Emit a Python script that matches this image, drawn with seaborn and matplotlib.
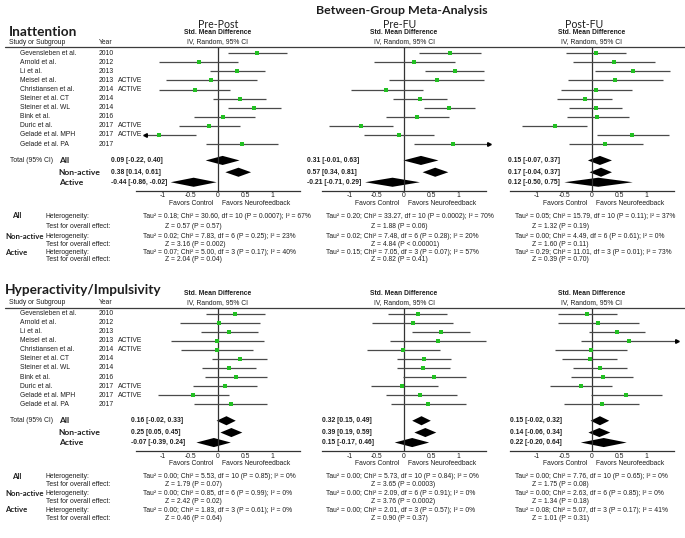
import numpy as np
import pandas as pd
import matplotlib.pyplot as plt
import seaborn as sns
from matplotlib.lines import Line2D

# ---- data ----
studies = ["Gevensleben et al.", "Arnold et al.", "Li et al.", "Meisel et al.",
           "Christiansen et al.", "Steiner et al. CT", "Steiner et al. WL",
           "Bink et al.", "Duric et al.", "Geladé et al. MPH", "Geladé et al. PA"]
years = ["2010", "2012", "2013", "2013", "2014", "2014", "2014", "2016", "2017", "2017", "2017"]
control = ["", "", "", "ACTIVE", "ACTIVE", "", "", "", "ACTIVE", "ACTIVE", ""]
periods = ["Pre-Post", "Pre-FU", "Post-FU"]
groups = ["All", "Non-active", "Active"]

# inattention
ina_pp_est = [0.71, -0.34, 0.36, -0.12, -0.42, 0.40, 0.67, 0.10, -0.16, -1.07, 0.44]
ina_pp_lo = [0.18, -1.07, -0.14, -0.95, -1.07, -0.09, 0.18, -0.43, -0.71, -1.74, -0.21]
ina_pp_hi = [1.26, 0.38, 0.87, 0.71, 0.23, 0.88, 1.16, 0.68, 0.40, -0.40, 1.10]
ina_pf_est = [0.84, 0.19, 0.93, 0.60, -0.32, 0.29, 0.82, 0.24, -0.79, -0.10, 0.89]
ina_pf_lo = [0.27, -0.55, 0.39, -0.27, -0.97, -0.21, 0.37, -0.33, -1.38, -0.74, 0.19]
ina_pf_hi = [1.41, 0.94, 1.47, 1.47, 0.34, 0.79, 1.30, 0.82, -0.20, 0.55, 1.59]
ina_pu_est = [0.07, 0.41, 0.75, 0.43, 0.08, -0.13, 0.07, 0.10, -0.68, 0.74, 0.24]
ina_pu_lo = [-0.47, -0.34, 0.06, -0.43, -0.57, -0.63, -0.41, -0.46, -1.27, 0.09, -0.41]
ina_pu_hi = [0.62, 1.16, 1.43, 1.30, 0.74, 0.37, 0.56, 0.68, -0.09, 1.41, 0.93]
ina_pp_tot = [[0.09, -0.22, 0.40], [0.38, 0.14, 0.61], [-0.44, -0.86, -0.02]]
ina_pf_tot = [[0.31, -0.01, 0.63], [0.57, 0.34, 0.81], [-0.21, -0.71, 0.29]]
ina_pu_tot = [[0.15, -0.07, 0.37], [0.17, -0.04, 0.37], [0.12, -0.50, 0.75]]

# hyperactivity / impulsivity
hyp_pp_est = [0.32, 0.03, 0.21, -0.01, -0.02, 0.40, 0.20, 0.33, 0.13, -0.46, 0.24]
hyp_pp_lo = [-0.21, -0.69, -0.31, -0.86, -0.68, -0.10, -0.29, -0.24, -0.45, -1.09, -0.43]
hyp_pp_hi = [0.87, 0.77, 0.73, 0.85, 0.64, 0.90, 0.70, 0.90, 0.71, 0.20, 0.91]
hyp_pf_est = [0.25, 0.17, 0.68, 0.63, -0.02, 0.37, 0.35, 0.55, -0.03, 0.30, 0.44]
hyp_pf_lo = [-0.29, -0.58, 0.15, -0.26, -0.68, -0.13, -0.13, -0.02, -0.60, -0.33, -0.24]
hyp_pf_hi = [0.79, 0.90, 1.21, 1.50, 0.65, 0.86, 0.85, 1.13, 0.62, 0.96, 1.13]
hyp_pu_est = [-0.08, 0.12, 0.46, 0.69, -0.01, -0.04, 0.15, 0.20, -0.20, 0.63, 0.19]
hyp_pu_lo = [-0.61, -0.61, -0.05, -0.19, -0.67, -0.54, -0.35, -0.37, -0.76, -0.02, -0.50]
hyp_pu_hi = [0.46, 0.87, 0.98, 1.57, 0.65, 0.46, 0.65, 0.76, 0.38, 1.29, 0.87]
hyp_pp_tot = [[0.16, -0.02, 0.33], [0.25, 0.05, 0.45], [-0.07, -0.39, 0.24]]
hyp_pf_tot = [[0.32, 0.15, 0.49], [0.39, 0.19, 0.59], [0.15, -0.17, 0.46]]
hyp_pu_tot = [[0.15, -0.02, 0.32], [0.14, -0.06, 0.34], [0.22, -0.20, 0.64]]

ina_het = [
    ["Tau² = 0.18; Chi² = 30.60, df = 10 (P = 0.0007); I² = 67%",
     "Tau² = 0.02; Chi² = 7.83, df = 6 (P = 0.25); I² = 23%",
     "Tau² = 0.07; Chi² = 5.00, df = 3 (P = 0.17); I² = 40%"],
    ["Tau² = 0.20; Chi² = 33.27, df = 10 (P = 0.0002); I² = 70%",
     "Tau² = 0.02; Chi² = 7.48, df = 6 (P = 0.28); I² = 20%",
     "Tau² = 0.15; Chi² = 7.05, df = 3 (P = 0.07); I² = 57%"],
    ["Tau² = 0.05; Chi² = 15.79, df = 10 (P = 0.11); I² = 37%",
     "Tau² = 0.00; Chi² = 4.49, df = 6 (P = 0.61); I² = 0%",
     "Tau² = 0.29; Chi² = 11.01, df = 3 (P = 0.01); I² = 73%"]]
ina_z = [["Z = 0.57 (P = 0.57)", "Z = 3.16 (P = 0.002)", "Z = 2.04 (P = 0.04)"],
         ["Z = 1.88 (P = 0.06)", "Z = 4.84 (P < 0.00001)", "Z = 0.82 (P = 0.41)"],
         ["Z = 1.32 (P = 0.19)", "Z = 1.60 (P = 0.11)", "Z = 0.39 (P = 0.70)"]]
hyp_het = [
    ["Tau² = 0.00; Chi² = 5.53, df = 10 (P = 0.85); I² = 0%",
     "Tau² = 0.00; Chi² = 0.85, df = 6 (P = 0.99); I² = 0%",
     "Tau² = 0.00; Chi² = 1.83, df = 3 (P = 0.61); I² = 0%"],
    ["Tau² = 0.00; Chi² = 5.73, df = 10 (P = 0.84); I² = 0%",
     "Tau² = 0.00; Chi² = 2.09, df = 6 (P = 0.91); I² = 0%",
     "Tau² = 0.00; Chi² = 2.01, df = 3 (P = 0.57); I² = 0%"],
    ["Tau² = 0.00; Chi² = 7.76, df = 10 (P = 0.65); I² = 0%",
     "Tau² = 0.00; Chi² = 2.63, df = 6 (P = 0.85); I² = 0%",
     "Tau² = 0.08; Chi² = 5.07, df = 3 (P = 0.17); I² = 41%"]]
hyp_z = [["Z = 1.79 (P = 0.07)", "Z = 2.42 (P = 0.02)", "Z = 0.46 (P = 0.64)"],
         ["Z = 3.65 (P = 0.0003)", "Z = 3.76 (P = 0.0002)", "Z = 0.90 (P = 0.37)"],
         ["Z = 1.75 (P = 0.08)", "Z = 1.34 (P = 0.18)", "Z = 1.01 (P = 0.31)"]]

# ---- style ----
sns.set_style("white")
plt.rcParams['font.family'] = ['Liberation Sans', 'DejaVu Sans']
ARIAL = ['Liberation Sans', 'DejaVu Sans']
CAL = ['Lato', 'DejaVu Sans']
INK = '#1e1e1e'
GREEN = '#22c022'
SMALL = 4.85

W, H = 685, 538
U = 54.7                       # px per SMD unit
ZEROS = [217.7, 404.0, 591.7]  # x px of the zero line per period
STEP = 9.08
AX_H = 143.4
TOT_ROWS = [11.8, 13.1, 14.2]

fig = plt.figure(figsize=(W / 100, H / 100), dpi=100)


def put(x, y, s, **kw):
    kw.setdefault('va', 'center')
    kw.setdefault('color', INK)
    kw.setdefault('family', ARIAL)
    kw.setdefault('fontsize', SMALL)
    fig.text(x / W, 1 - y / H, s, **kw)


def row_px(top, r):
    return top + (r + 0.65) * STEP


put(402, 10, "Between-Group Meta-Analysis", ha='center', family=CAL,
    fontsize=8.9, weight='bold')

sections = [
    dict(top=47.3, title="Inattention", title_x=9, title_y=32.5, heads=True,
         est=[ina_pp_est, ina_pf_est, ina_pu_est], lo=[ina_pp_lo, ina_pf_lo, ina_pu_lo],
         hi=[ina_pp_hi, ina_pf_hi, ina_pu_hi], tot=[ina_pp_tot, ina_pf_tot, ina_pu_tot],
         het=ina_het, z=ina_z, tot_x=[111, 307.3, 507.7],
         het_y=[216, 226, 236.5, 244.5, 252.5, 259.5], fav_y=203.3),
    dict(top=307.6, title="Hyperactivity/Impulsivity", title_x=5, title_y=290, heads=False,
         est=[hyp_pp_est, hyp_pf_est, hyp_pu_est], lo=[hyp_pp_lo, hyp_pf_lo, hyp_pu_lo],
         hi=[hyp_pp_hi, hyp_pf_hi, hyp_pu_hi], tot=[hyp_pp_tot, hyp_pf_tot, hyp_pu_tot],
         het=hyp_het, z=hyp_z, tot_x=[131, 321.7, 510],
         het_y=[476.7, 485, 493.3, 501.7, 510, 518.3], fav_y=463.5),
]
HET_X = [143, 326, 515]
Z_X = [165, 371, 532]
TITLE_X = [218, 400, 584]

for sec in sections:
    top = sec['top']
    put(sec['title_x'], sec['title_y'], sec['title'], family=CAL,
        fontsize=9.8, weight='bold')
    put(9, top - 5, "Study or Subgroup")
    put(99, top - 5, "Year")
    fig.add_artist(Line2D([5 / W, 1], [1 - top / H] * 2, color='#3c3c3c', lw=0.9))

    for i, (s, y, c) in enumerate(zip(studies, years, control)):
        yy = row_px(top, i)
        put(20, yy, s)
        put(99, yy, y)
        if c:
            put(118, yy, c)

    put(10, row_px(top, TOT_ROWS[0]), "Total (95% CI)")
    for g, r in zip(groups, TOT_ROWS):
        put(58.7, row_px(top, r), g, family=CAL, fontsize=6.1, weight='bold')

    for k in range(3):
        z0 = ZEROS[k]
        if sec['heads']:
            put(TITLE_X[k], 24.5, periods[k], ha='center', family=CAL, fontsize=7.6)
        put(z0, top - 14.5, "Std. Mean Difference", ha='center', weight='bold')
        put(z0, top - 5.5, "IV, Random, 95% CI", ha='center')

        ax = fig.add_axes([(z0 - 1.5 * U) / W, 1 - (top + AX_H) / H, 3 * U / W, AX_H / H])
        ax.set_xlim(-1.5, 1.5)
        ax.set_ylim(15.13, -0.65)
        ax.axvline(0, color='#333333', lw=0.9)

        df = pd.DataFrame({'est': sec['est'][k], 'lo': sec['lo'][k], 'hi': sec['hi'][k],
                           'row': np.arange(len(studies))})
        lo_c = df['lo'].where(df['lo'] >= -1.5, -1.32)
        hi_c = df['hi'].where(df['hi'] <= 1.53, 1.56)
        ax.hlines(df['row'], lo_c, hi_c, color='#4a4a4a', lw=0.9, clip_on=False)
        for r, lo, hi in zip(df['row'], df['lo'], df['hi']):
            if lo < -1.5:
                ax.plot(-1.32, r, marker='<', ms=2.6, color='black', clip_on=False)
            if hi > 1.53:
                ax.plot(1.56, r, marker='>', ms=2.6, color='black', clip_on=False)
        sns.scatterplot(data=df, x='est', y='row', marker='s', color=GREEN, s=5,
                        linewidth=0, ax=ax, legend=False, zorder=3)

        for (e, lo, hi), r in zip(sec['tot'][k], TOT_ROWS):
            ax.fill([lo, e, hi, e], [r, r - 0.5, r, r + 0.5], color='black', lw=0)
            put(sec['tot_x'][k], row_px(top, r), f"{e:.2f} [{lo:.2f}, {hi:.2f}]",
                weight='bold')

        ax.set_xticks([-1, -0.5, 0, 0.5, 1])
        ax.set_xticklabels(['-1', '-0.5', '0', '0.5', '1'])
        ax.set_yticks([])
        ax.set_xlabel('')
        ax.set_ylabel('')
        ax.tick_params(axis='x', direction='in', length=3, width=0.7, pad=1.2,
                       labelsize=SMALL, colors=INK)
        for sp in ['top', 'left', 'right']:
            ax.spines[sp].set_visible(False)
        ax.spines['bottom'].set_color('#333333')
        ax.spines['bottom'].set_linewidth(0.9)
        ax.patch.set_alpha(0)

        put(z0 - 4.5, sec['fav_y'], "Favors Control", ha='right')
        put(z0 + 4.5, sec['fav_y'], "Favors Neurofeedback", ha='left')

        for j in range(3):
            put(HET_X[k], sec['het_y'][2 * j], sec['het'][k][j])
            put(Z_X[k], sec['het_y'][2 * j + 1], sec['z'][k][j])

    for j, g in enumerate(groups):
        put(12 if g == "All" else 5, sec['het_y'][2 * j], g, family=CAL,
            fontsize=5.6, weight='bold')
        put(46, sec['het_y'][2 * j], "Heterogeneity:")
        put(46, sec['het_y'][2 * j + 1], "Test for overall effect:")

fig.savefig('out.png', dpi=100)
